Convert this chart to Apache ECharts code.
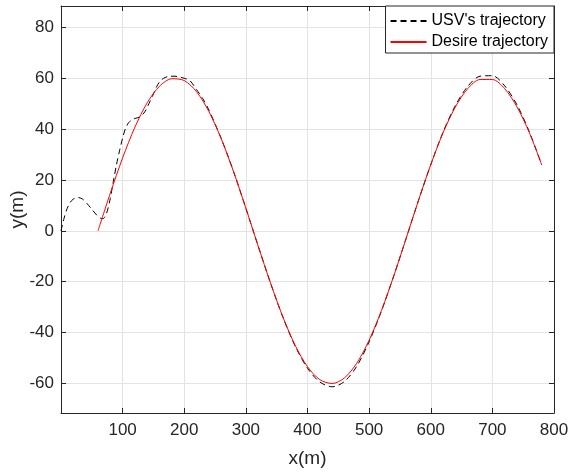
<!DOCTYPE html>
<html>
<head>
<meta charset="utf-8">
<script src="https://cdn.jsdelivr.net/npm/echarts@6/dist/echarts.min.js"></script>
<style>html,body{margin:0;padding:0;background:#fff;}#c{width:569px;height:475px;}</style>
</head>
<body>
<div id="c"></div>
<script>
const xTicks = [100, 200, 300, 400, 500, 600, 700, 800];
const yTicks = [-60, -40, -20, 0, 20, 40, 60, 80];

const usvX = [0, 5, 10, 15, 20, 28, 35, 42, 50, 58, 64, 68, 72, 76, 80, 85, 90, 95, 100, 105, 110, 115, 120, 128, 136, 144, 150, 155, 160, 166, 176, 185, 193, 200, 209, 220, 230, 240, 260, 280, 300, 320, 340, 360, 380, 400, 420, 440, 460, 480, 500, 520, 540, 560, 580, 600, 620, 640, 660, 680, 700, 720, 740, 760, 780];
const usvY = [0, 5, 8.8, 11.2, 12.5, 13.1, 12.5, 10.8, 8.5, 6.2, 5.0, 4.8, 5.8, 8.6, 12.8, 19.5, 26, 31.5, 36.5, 40.5, 42.6, 43.6, 44.2, 44.8, 46.8, 50.7, 53.8, 56.6, 58.6, 59.9, 60.8, 60.8, 60.4, 60, 59.1, 55.5, 52, 47.5, 36.3, 23.3, 8.9, -6.0, -20.5, -33.9, -45.3, -54.0, -59.4, -61.3, -59.2, -53.2, -43.6, -31.5, -17.7, -3.0, 11.9, 26.0, 38.8, 49.3, 56.8, 60.8, 61.0, 57.0, 49.5, 38.9, 26.0];

const desX = [60, 80, 100, 120, 140, 160, 180, 200, 220, 240, 260, 280, 300, 320, 340, 360, 380, 400, 420, 440, 460, 480, 500, 520, 540, 560, 580, 600, 620, 640, 660, 680, 700, 720, 740, 760, 780];
const desY = [0, 14.8, 28.7, 40.8, 50.4, 56.9, 59.8, 59.1, 54.7, 46.9, 36.2, 23.3, 8.9, -6.0, -20.5, -33.8, -45.0, -53.4, -58.5, -60.0, -57.8, -52.0, -43.0, -31.3, -17.7, -3.0, 11.9, 26.0, 38.6, 48.7, 55.9, 59.5, 59.5, 55.9, 48.7, 38.6, 26.0];

const pairs = (xs, ys) => xs.map((x, i) => [x, ys[i]]);

const AX = '#262626';
const FONT = 'Liberation Sans, Arial, sans-serif';
const baseX = {
  type: 'value', min: 0, max: 800, interval: 100,
  axisLine: { show: true, onZero: false, lineStyle: { color: AX, width: 1 } },
  axisTick: { show: true, inside: true, length: 5, lineStyle: { color: AX } },
  splitLine: { show: false }
};
const baseY = {
  type: 'value', min: -71.6, max: 88.4,
  axisLine: { show: true, onZero: false, lineStyle: { color: AX, width: 1 } },
  axisTick: { show: true, inside: true, length: 5, customValues: yTicks, lineStyle: { color: AX } },
  splitLine: { show: false }
};

const chart = echarts.init(document.getElementById('c'), null, { renderer: 'canvas' });
chart.setOption({
  animation: false,
  backgroundColor: '#fff',
  grid: { left: 61, right: 15, top: 6, bottom: 62, containLabel: false, outerBoundsMode: 'none' },
  legend: {
    right: 15, top: 6, orient: 'vertical',
    itemWidth: 36, itemHeight: 14, itemGap: 5,
    padding: [7, 6, 3, 4],
    backgroundColor: '#fff', borderColor: AX, borderWidth: 1, borderRadius: 0,
    itemStyle: { opacity: 0 },
    textStyle: { fontFamily: FONT, fontSize: 16, color: '#000', lineHeight: 16 },
    data: ["USV's trajectory", 'Desire trajectory']
  },
  xAxis: [
    Object.assign({}, baseX, {
      position: 'bottom',
      name: 'x(m)', nameLocation: 'middle', nameGap: 36, nameMoveOverlap: false,
      nameTextStyle: { fontFamily: FONT, fontSize: 19, color: AX },
      axisLabel: { show: true, showMinLabel: false, margin: 9, fontFamily: FONT, fontSize: 17, color: AX },
      splitLine: { show: true, showMinLine: false, showMaxLine: false, lineStyle: { color: '#e3e3e3', width: 1 } }
    }),
    Object.assign({}, baseX, { position: 'top', axisLabel: { show: false } })
  ],
  yAxis: [
    Object.assign({}, baseY, {
      position: 'left',
      name: 'y(m)', nameLocation: 'middle', nameGap: 34, nameMoveOverlap: false,
      nameTextStyle: { fontFamily: FONT, fontSize: 19, color: AX },
      axisLabel: { show: true, customValues: yTicks, margin: 7, fontFamily: FONT, fontSize: 17, color: AX },
      splitLine: { show: true, lineStyle: { color: '#e3e3e3', width: 1 } }
    }),
    Object.assign({}, baseY, { position: 'right', axisLabel: { show: false } })
  ],
  series: [
    {
      name: "USV's trajectory", type: 'line', xAxisIndex: 0, yAxisIndex: 0,
      data: pairs(usvX, usvY), smooth: 0.3, symbol: 'none', showSymbol: false,
      lineStyle: { color: '#000', width: 1, type: [6, 4] }, itemStyle: { color: '#000' }
    },
    {
      name: 'Desire trajectory', type: 'line', xAxisIndex: 0, yAxisIndex: 0,
      data: pairs(desX, desY), smooth: 0.3, symbol: 'none', showSymbol: false,
      lineStyle: { color: '#ff0000', width: 1 }, itemStyle: { color: '#ff0000' }
    }
  ]
});
</script>
</body>
</html>
